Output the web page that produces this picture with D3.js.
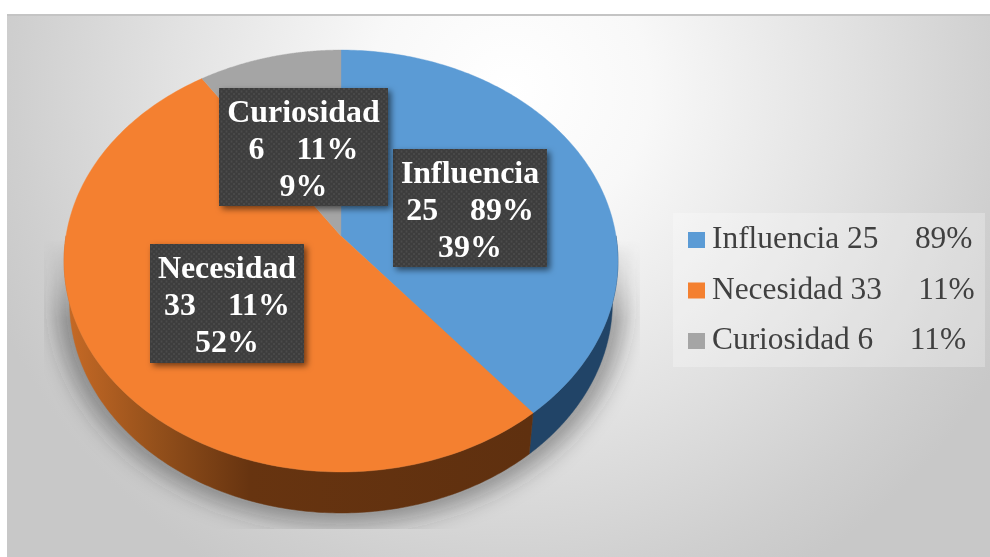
<!DOCTYPE html>
<html><head><meta charset="utf-8">
<script src="https://cdn.jsdelivr.net/npm/d3@7/dist/d3.min.js"></script>
<style>html,body{margin:0;padding:0;background:#fff;overflow:hidden}svg{display:block}text{white-space:pre}</style>
</head><body><svg id="c" width="990" height="557"></svg>
<script>
// data
const categories = ["Influencia","Necesidad","Curiosidad"];
const values = [25,33,6];
const shares = ["89%","11%","11%"];
const percents = ["39%","52%","9%"];
const colors = ["#5b9bd5","#f48030","#a5a5a5"];
const sideColors = ["#214467","url(#wallO)","#777777"];

// layout
const W=990,H=557;
const apex={x:341,y:236}, depth=41, A=275, B=208, k=-0.1185, baseShrink=0.98;
const labelBoxes=[[393,149,154,118],[150,244,154,119],[219,88,169,118]];
const svg=d3.select("#c");
const defs=svg.append("defs");

const bg=defs.append("radialGradient").attr("id","bg").attr("gradientUnits","userSpaceOnUse")
  .attr("cx",510).attr("cy",90).attr("r",560);
[[0,"#ffffff"],[.25,"#f8f8f8"],[.6,"#e2e2e2"],[.88,"#cfcfcf"],[1,"#c8c8c8"]].forEach(s=>bg.append("stop").attr("offset",s[0]).attr("stop-color",s[1]));

const wo=defs.append("linearGradient").attr("id","wallO").attr("gradientUnits","userSpaceOnUse")
  .attr("x1",62).attr("x2",531).attr("y1",0).attr("y2",0);
[[0,"#c96b26"],[.2,"#94501b"],[.4,"#673410"],[1,"#5f300f"]].forEach(s=>wo.append("stop").attr("offset",s[0]).attr("stop-color",s[1]));

defs.append("filter").attr("id","blur").attr("x","-20%").attr("y","-20%").attr("width","140%").attr("height","140%")
  .append("feGaussianBlur").attr("stdDeviation",10);
const sf=defs.append("filter").attr("id","boxShadow").attr("x","-15%").attr("y","-15%").attr("width","130%").attr("height","130%");
sf.append("feDropShadow").attr("dx",3).attr("dy",3).attr("stdDeviation",3).attr("flood-color","#000").attr("flood-opacity",.55);
const soft=defs.append("filter").attr("id","soft").attr("x","-2%").attr("y","-2%").attr("width","104%").attr("height","104%");
soft.append("feGaussianBlur").attr("stdDeviation",.45);

const pat=defs.append("pattern").attr("id","dots").attr("patternUnits","userSpaceOnUse").attr("width",5).attr("height",5);
pat.append("rect").attr("width",5).attr("height",5).attr("fill","#3e3e3e");
pat.append("circle").attr("cx",1.5).attr("cy",1.5).attr("r",.9).attr("fill","#4c4c4c");
pat.append("circle").attr("cx",4).attr("cy",4).attr("r",.9).attr("fill","#4c4c4c");

const fade=defs.append("linearGradient").attr("id","fade").attr("x1",0).attr("x2",0).attr("y1",0).attr("y2",1);
[[0,"#000"],[.28,"#fff"],[1,"#fff"]].forEach(s=>fade.append("stop").attr("offset",s[0]).attr("stop-color",s[1]));
const mask=defs.append("mask").attr("id","shMask").attr("maskUnits","userSpaceOnUse").attr("x",0).attr("y",0).attr("width",W).attr("height",H);
mask.append("rect").attr("x",44).attr("y",240).attr("width",596).attr("height",289).attr("fill","url(#fade)");

// background frame
svg.append("rect").attr("x",7).attr("y",15).attr("width",W-7).attr("height",H-15).attr("fill","url(#bg)");
svg.append("rect").attr("x",7).attr("y",14).attr("width",W-7).attr("height",2).attr("fill","#c4c4c4");

// projection of the pie disc (perspective tilt), top rim and the slightly smaller base rim
const project=t=>{const u=Math.sin(t),v=-Math.cos(t),w=1+k*v;return [apex.x+A*u/w,apex.y+B*v/w];};
const projectBase=t=>{const p=project(t);return [apex.x+(p[0]-apex.x)*baseShrink,p[1]+depth];};
const pie=d3.pie().sort(null).value(d=>d)(values);
const line=d3.line();
const samples=(a,b)=>d3.range(0,181).map(i=>a+(b-a)*i/180);
const frontLimit=Math.acos(k)-0.12; // slightly behind the widest point, hidden by the top face

const rim=samples(0,2*Math.PI).map(project);
const frontTop=samples(frontLimit,2*Math.PI-frontLimit).map(project);
const frontBase=samples(frontLimit,2*Math.PI-frontLimit).map(projectBase);
const silhouette=line(rim)+"Z "+line(frontBase.concat(frontTop.slice().reverse()))+"Z";

// shadow
svg.append("g").attr("mask","url(#shMask)").append("path")
  .attr("d",silhouette).attr("fill","#303030").attr("fill-opacity",.42)
  .attr("filter","url(#blur)")
  .attr("transform",`translate(341 281) scale(1.05 1.05) translate(-341 -281)`);

// sides
pie.forEach((s,i)=>{
  const a=Math.max(s.startAngle,frontLimit),b=Math.min(s.endAngle,2*Math.PI-frontLimit);
  if(b<=a) return;
  const ts=samples(a,b);
  svg.append("path").attr("d",line(ts.map(project).concat(ts.slice().reverse().map(projectBase)))+"Z")
    .attr("fill",sideColors[i]).attr("stroke",sideColors[i]).attr("stroke-width",.5);
});
// top faces
pie.forEach((s,i)=>{
  svg.append("path").attr("d",line([[apex.x,apex.y]].concat(samples(s.startAngle,s.endAngle).map(project)))+"Z")
    .attr("fill",colors[i]).attr("stroke",colors[i]).attr("stroke-width",.4);
});

// data labels
categories.forEach((c,i)=>{
  const [x,y,w,h]=labelBoxes[i],g=svg.append("g");
  g.append("rect").attr("x",x).attr("y",y).attr("width",w).attr("height",h).attr("fill","url(#dots)").attr("filter","url(#boxShadow)");
  const lines=[c,`${values[i]}    ${shares[i]}`,percents[i]];
  lines.forEach((t,j)=>g.append("text").attr("x",x+w/2).attr("y",y+34+37*j)
    .attr("text-anchor","middle").attr("font-family","'Liberation Serif',serif").attr("font-weight","bold")
    .attr("font-size",31.9).attr("fill","#fff").attr("filter","url(#soft)").text(t));
});

// legend
svg.append("rect").attr("x",673).attr("y",213).attr("width",312).attr("height",154).attr("fill","#fff").attr("fill-opacity",.25);
const ly=d3.scalePoint().domain(categories).range([248,349]);
categories.forEach((c,i)=>{
  svg.append("rect").attr("x",688).attr("y",ly(c)-16).attr("width",17).attr("height",16).attr("fill",colors[i]);
  const t=svg.append("text").attr("x",712).attr("y",ly(c)).attr("font-family","'Liberation Serif',serif")
    .attr("font-size",31.4).attr("fill","#404040").attr("filter","url(#soft)");
  t.append("tspan").text(`${c} ${values[i]}    `);
  t.append("tspan").attr("dx",5).text(shares[i]);
});
</script></body></html>
